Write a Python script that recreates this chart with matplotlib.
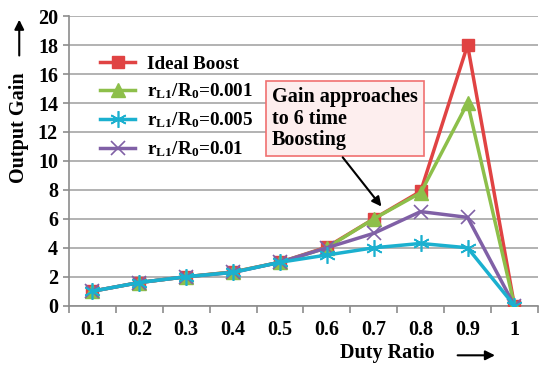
import matplotlib
matplotlib.use('Agg')
import matplotlib.pyplot as plt
from matplotlib.ticker import FixedLocator, NullFormatter, FixedFormatter

plt.rcParams['font.family'] = 'Liberation Serif'
plt.rcParams['font.weight'] = 'bold'
plt.rcParams['mathtext.fontset'] = 'custom'
plt.rcParams['mathtext.rm'] = 'Liberation Serif:bold'
plt.rcParams['mathtext.it'] = 'Liberation Serif:bold'
plt.rcParams['mathtext.bf'] = 'Liberation Serif:bold'

# data
duty = ['0.1', '0.2', '0.3', '0.4', '0.5', '0.6', '0.7', '0.8', '0.9', '1']
ideal = [1, 1.6, 2, 2.33, 3, 4.05, 6, 7.9, 18, 0]
r001 = [1, 1.6, 2, 2.33, 3, 4.0, 6, 7.8, 14, 0]
r005 = [1, 1.6, 2, 2.3, 3, 3.5, 4.0, 4.3, 4.0, 0]
r01 = [1, 1.6, 2, 2.3, 3, 4.0, 5.0, 6.5, 6.1, 0]

x = list(range(len(duty)))

fig = plt.figure(figsize=(5.5, 3.76), dpi=100)
ax = fig.add_axes([0.1255, 0.187, 0.8525, 0.77])

red = '#E04343'
green = '#8DBF4A'
cyan = '#1BB0CF'
purple = '#8060A6'

ax.plot(x, ideal, color=red, lw=2.5, marker='s', ms=9, label='Ideal Boost', zorder=3)
ax.plot(x, r001, color=green, lw=2.5, marker='^', ms=10,
        label=r'r$_{\mathrm{L1}}$/R$_{\mathrm{0}}$=0.001', zorder=4)
ax.plot(x, r005, color=cyan, lw=2.5, marker=(6, 2, 0), ms=12, mew=1.2,
        label=r'r$_{\mathrm{L1}}$/R$_{\mathrm{0}}$=0.005', zorder=5)
ax.plot(x, r01, color=purple, lw=2.5, marker='x', ms=10, mew=1.2,
        label=r'r$_{\mathrm{L1}}$/R$_{\mathrm{0}}$=0.01', zorder=4)

ax.set_xlim(-0.5, len(duty) - 0.5)
ax.set_ylim(0, 20)
ax.set_yticks(range(0, 21, 2))
ax.yaxis.grid(True, color='#A6A6A6', lw=1.2)
ax.set_axisbelow(True)

ax.xaxis.set_major_locator(FixedLocator([i - 0.5 for i in range(len(duty) + 1)]))
ax.xaxis.set_major_formatter(NullFormatter())
ax.xaxis.set_minor_locator(FixedLocator(x))
ax.xaxis.set_minor_formatter(FixedFormatter(duty))
ax.tick_params(axis='x', which='major', length=5, color='#8C8C8C', width=1.2)
ax.tick_params(axis='x', which='minor', length=0, pad=10, labelsize=14.5)
ax.tick_params(axis='y', length=4, color='#8C8C8C', width=1.2, labelsize=14.5, pad=4)

for s in ['top', 'right']:
    ax.spines[s].set_visible(False)
for s in ['left', 'bottom']:
    ax.spines[s].set_color('#8C8C8C')
    ax.spines[s].set_linewidth(1.2)

ax.legend(loc='upper left', bbox_to_anchor=(0.03, 0.925), frameon=False,
          fontsize=13.8, handlelength=1.8, labelspacing=0.48, handletextpad=0.65)

ax.text(3.83, 15.1, 'Gain approaches\nto 6 time\nBoosting', fontsize=14.5,
        ha='left', va='top', linespacing=1.1,
        bbox=dict(boxstyle='square,pad=0.3', fc='#FDEEEE', ec='#F07070', lw=1.2))
ax.annotate('', xy=(6.2, 6.7), xytext=(5.3, 10.4),
            arrowprops=dict(arrowstyle='-|>', color='black', lw=1.5, mutation_scale=14))

# axis titles with arrows
fig.text(0.035, 0.66, 'Output Gain', rotation=90, ha='center', va='center', fontsize=14.5)
fig.add_artist(matplotlib.patches.FancyArrowPatch((0.035, 0.845), (0.035, 0.955),
               transform=fig.transFigure, arrowstyle='-|>', mutation_scale=14,
               color='black', lw=1.5))
fig.text(0.704, 0.06, 'Duty Ratio', ha='center', va='center', fontsize=14.5)
fig.add_artist(matplotlib.patches.FancyArrowPatch((0.827, 0.055), (0.905, 0.055),
               transform=fig.transFigure, arrowstyle='-|>', mutation_scale=14,
               color='black', lw=1.5))

fig.savefig('out.png', dpi=100)
